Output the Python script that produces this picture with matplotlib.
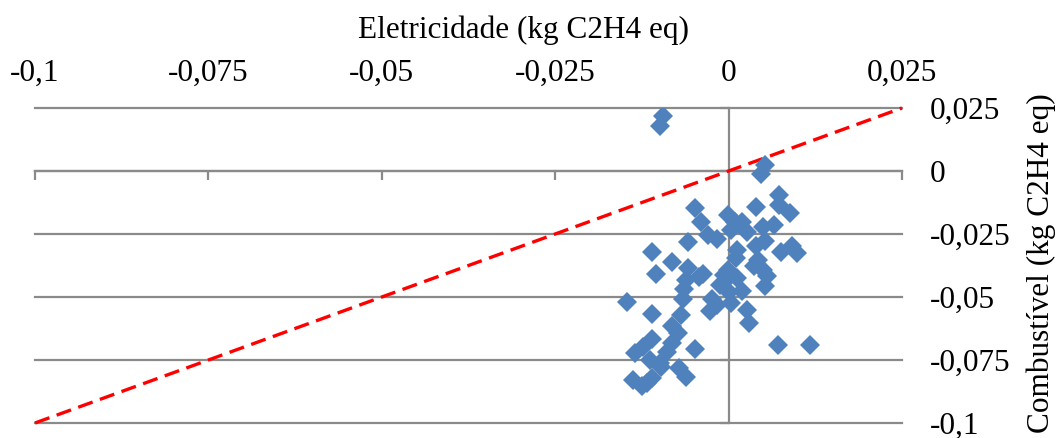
import matplotlib
matplotlib.use("Agg")
import matplotlib.pyplot as plt

# Electricity vs fuel impact (kg C2H4 eq)
eletricidade = [
    -0.0095, -0.0099, 0.0052, 0.0046, 0.0073, 0.0073, 0.0088, 0.0039, -0.0049, -0.0040,
    -0.0001, 0.0009, 0.0020, 0.0004, 0.0027, 0.0049, 0.0065, -0.0030, -0.0017, -0.0058,
    -0.0111, -0.0082, -0.0105, -0.0059, -0.0037, 0.0012, 0.0010, 0.0039, 0.0053, 0.0076,
    0.0091, 0.0098, 0.0042, 0.0037, 0.0050, -0.0001, 0.0056, -0.0003, -0.0013, -0.0062,
    -0.0065, 0.0052, 0.0020, 0.0001, -0.0146, -0.0066, -0.0024, 0.0004, -0.0110, -0.0069,
    -0.0027, -0.0017, 0.0026, 0.0030, -0.0081, -0.0073, -0.0110, -0.0124, -0.0135, -0.0114,
    -0.0099, -0.0089, -0.0081, -0.0049, -0.0071, -0.0061, -0.0138, -0.0125, -0.0118, -0.0110,
    -0.0097, 0.0071, 0.0117, -0.0042, -0.0006, 0.0012,
]
combustivel = [
    0.0218, 0.0179, 0.0024, -0.0012, -0.0095, -0.0135, -0.0167, -0.0143, -0.0147, -0.0202,
    -0.0175, -0.0202, -0.0202, -0.0234, -0.0242, -0.0222, -0.0214, -0.0254, -0.0270, -0.0282,
    -0.0321, -0.0361, -0.0409, -0.0385, -0.0409, -0.0313, -0.0345, -0.0298, -0.0278, -0.0321,
    -0.0298, -0.0325, -0.0353, -0.0377, -0.0393, -0.0393, -0.0417, -0.0429, -0.0452, -0.0433,
    -0.0468, -0.0456, -0.0476, -0.0480, -0.0520, -0.0508, -0.0508, -0.0524, -0.0567, -0.0571,
    -0.0556, -0.0532, -0.0552, -0.0603, -0.0615, -0.0643, -0.0667, -0.0698, -0.0722, -0.0750,
    -0.0762, -0.0718, -0.0683, -0.0706, -0.0782, -0.0817, -0.0829, -0.0853, -0.0841, -0.0821,
    -0.0778, -0.0690, -0.0690, -0.0421, -0.0413, -0.0425,
]

# y = x reference line
ref_x = [-0.1, 0.025]
ref_y = [-0.1, 0.025]

tick_values = [-0.1, -0.075, -0.05, -0.025, 0, 0.025]
tick_labels = ["-0,1", "-0,075", "-0,05", "-0,025", "0", "0,025"]

GRAY = "#8A8A8A"
BLUE = "#4F81BD"
FONT = "Liberation Serif"
FS = 22.5

plt.rcParams["font.family"] = [FONT, "DejaVu Serif"]

fig = plt.figure(figsize=(10.56, 4.38), dpi=100)
ax = fig.add_axes([35 / 1056, 15 / 438, 867 / 1056, 315 / 438])

ax.plot(ref_x, ref_y, color="#FF0000", lw=2.4, linestyle=(0, (4.6, 2.3)),
        zorder=3, clip_on=False)
ax.plot(eletricidade, combustivel, linestyle="none", marker="D", markersize=10.2,
        color=BLUE, markeredgewidth=0, zorder=4)

ax.set_xlim(-0.1, 0.025)
ax.set_ylim(-0.1, 0.025)

# axes cross at the origin
for side in ("top", "right"):
    ax.spines[side].set_visible(False)
for side in ("left", "bottom"):
    ax.spines[side].set_position(("data", 0))
    ax.spines[side].set_color(GRAY)
    ax.spines[side].set_linewidth(1.6)
    ax.spines[side].set_zorder(2)

ax.set_xticks(tick_values)
ax.set_xticklabels(tick_labels)
ax.set_yticks(tick_values)
ax.set_yticklabels(tick_labels)

ax.tick_params(axis="x", bottom=True, top=False, labelbottom=False, labeltop=True,
               direction="out", length=6.2, width=1.6, color=GRAY, pad=8.0,
               labelsize=FS)
ax.tick_params(axis="y", left=True, right=False, labelleft=False, labelright=True,
               direction="out", length=6.2, width=1.6, color=GRAY, pad=13.8,
               labelsize=FS)

ax.yaxis.grid(True, color=GRAY, lw=1.6)
ax.xaxis.grid(False)
ax.set_axisbelow(True)
for gl in ax.get_ygridlines():
    gl.set_clip_on(False)

ax.set_xlabel("Eletricidade (kg C2H4 eq)", fontsize=FS)
ax.xaxis.set_label_position("top")
ax.xaxis.set_label_coords((523 - 35) / 867, (423 - 30) / 315)
ax.xaxis.label.set(ha="center", va="center")

ax.set_ylabel("Combustível (kg C2H4 eq)", fontsize=FS)
ax.yaxis.set_label_position("right")
ax.yaxis.set_label_coords((1041 - 35) / 867, (423 - 263) / 315)
ax.yaxis.label.set(ha="center", va="center", rotation=90, rotation_mode="default")

fig.savefig("out.png", dpi=100)
